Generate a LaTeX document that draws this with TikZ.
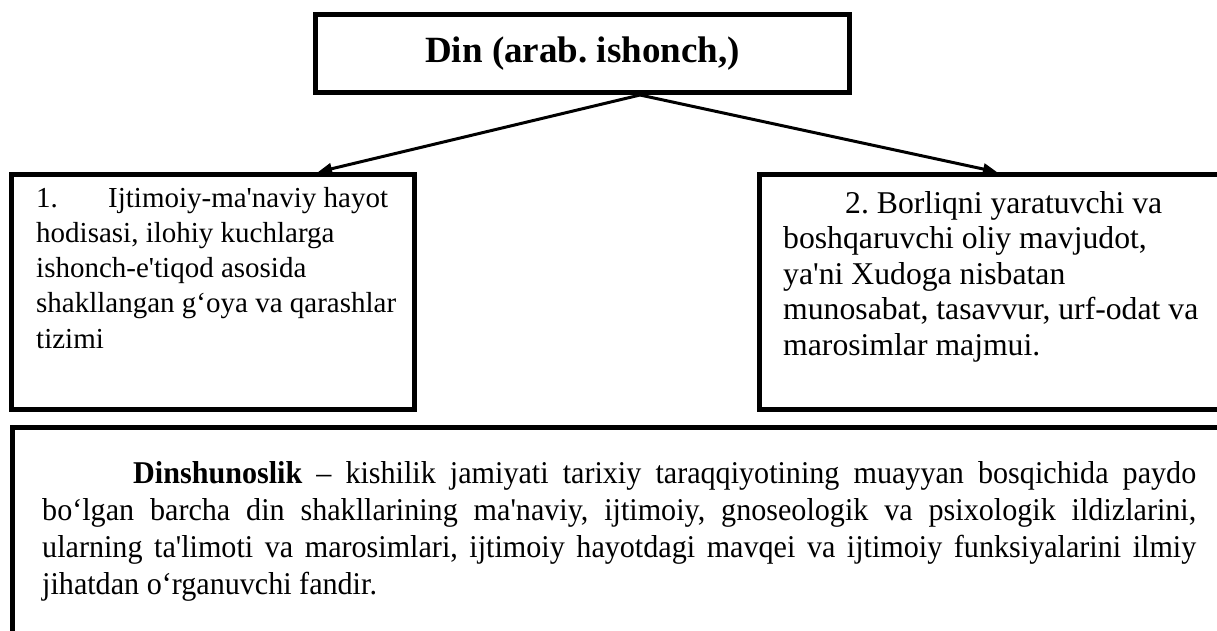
\documentclass[tikz,border=0pt]{standalone}
\usepackage{fontspec}
\setmainfont[Ligatures=TeXOff]{Liberation Serif}
\newfontfamily\condfont[FakeStretch=0.95,Ligatures=TeXOff]{Liberation Serif}
\usetikzlibrary{arrows.meta,calc}
\begin{document}
\frenchspacing
\begin{tikzpicture}[x=1pt,y=1pt,
  box/.style={draw, line width=5pt, rectangle, inner sep=0pt, anchor=north west},
  conn/.style={line width=3pt, -{Triangle[length=14pt,width=11pt]}},
  boxtext/.style={anchor=base west, inner sep=0pt}
]
\useasboundingbox (0,0) rectangle (1217,-630);
\clip (0,0) rectangle (1217,-630);
% boxes
\node[box, anchor=center, minimum width=534pt, minimum height=78pt,
      font=\fontsize{37}{44}\selectfont\bfseries] (top) at (582.5,-53.5) {\raisebox{-6pt}{Din (arab. ishonch,)}};
\node[box, minimum width=403pt, minimum height=235pt] (left) at (9,-172) {};
\node[box, minimum width=480pt, minimum height=235pt] (right) at (757,-172) {};
\node[box, minimum width=1228pt, minimum height=225pt] (bottom) at (10,-425) {};
% texts
\node[boxtext] (lefttext) at (36,-207) {\parbox[t]{380pt}{\fontsize{29}{35.3}\selectfont
  \makebox[72pt][l]{1.}Ijtimoiy-ma'naviy hayot\\
  hodisasi, ilohiy kuchlarga\\
  ishonch-e'tiqod asosida\\
  shakllangan g‘oya va qarashlar\\
  tizimi}};
\node[boxtext] (righttext) at (783,-213) {\parbox[t]{430pt}{\fontsize{31.7}{35.5}\selectfont
  \hspace*{62pt}2. Borliqni yaratuvchi va\\
  boshqaruvchi oliy mavjudot,\\
  ya'ni Xudoga nisbatan\\
  munosabat, tasavvur, urf-odat va\\
  marosimlar majmui.}};
\node[boxtext] (bottomtext) at (42,-483) {\parbox[t]{1154pt}{\condfont\fontsize{31.7}{37.2}\selectfont
  \hspace*{91pt}\makebox[1063pt][s]{\textbf{Dinshunoslik} – kishilik jamiyati tarixiy taraqqiyotining muayyan bosqichida paydo}\\
  \makebox[1154pt][s]{bo‘lgan barcha din shakllarining ma'naviy, ijtimoiy, gnoseologik va psixologik ildizlarini,}\\
  \makebox[1154pt][s]{ularning ta'limoti va marosimlari, ijtimoiy hayotdagi mavqei va ijtimoiy funksiyalarini ilmiy}\\
  jihatdan o‘rganuvchi fandir.}};
% connectors
\coordinate (apex) at ($(top.south)+(57.5,0)$);
\coordinate (ltip) at ($(left.north west)+(309,0)$);
\coordinate (rtip) at ($(right.north west)+(240,0)$);
\draw[conn] (apex) -- (ltip);
\draw[conn] (apex) -- (rtip);
\end{tikzpicture}
\end{document}
